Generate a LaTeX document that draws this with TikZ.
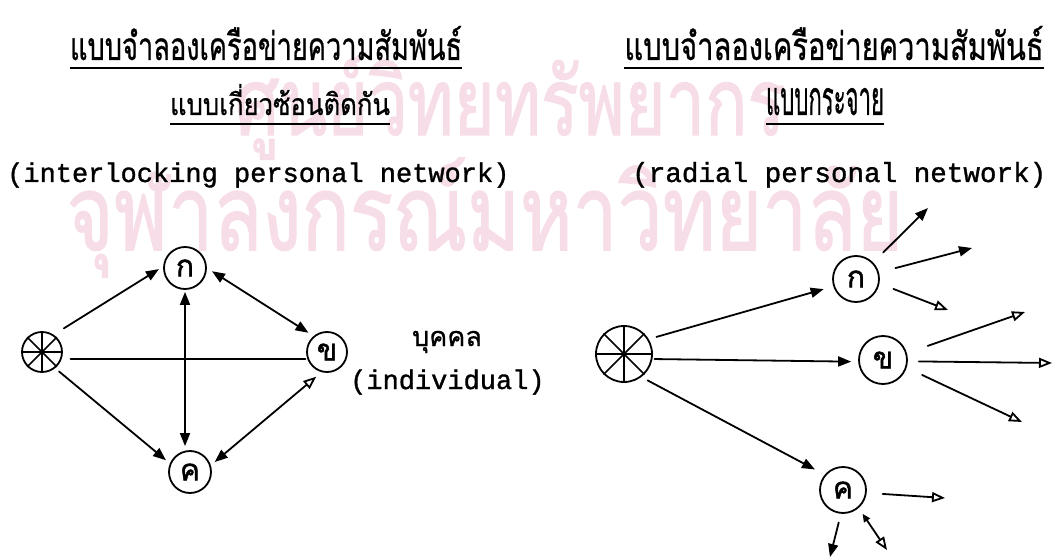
\documentclass[tikz,border=0pt]{standalone}
\usepackage{fontspec}
\usetikzlibrary{arrows.meta}
\newfontfamily\thai[Script=Thai,FakeBold=0.8]{Loma}
\newfontfamily\thaic[Script=Thai,FakeBold=1.5]{Loma}
\newfontfamily\wmthai[Script=Thai,FakeBold=1.5]{Loma}
\newfontfamily\tw[FakeBold=1.2]{Liberation Mono}
\definecolor{wm}{RGB}{246,221,231}
\tikzset{
  ink/.style={line width=1.8pt, line cap=round},
  arr/.style={ink, -{Triangle[length=13pt,width=10pt]}},
  oarr/.style={ink, -{Triangle[open,length=13pt,width=10pt]}},
  dbl/.style={ink, {Triangle[length=13pt,width=10pt]}-{Triangle[length=13pt,width=10pt]}},
  person/.style={circle, draw, line width=1.8pt, inner sep=0pt, minimum size=#1,
                 font=\thaic\fontsize{30}{30}\selectfont},
  hub/.style={circle, draw, line width=1.8pt, inner sep=0pt, minimum size=#1},
  spoke/.style={line width=1.5pt},
  mono/.style={inner sep=0pt, font=\tw\fontsize{27}{30}\selectfont},
  monoR/.style={inner sep=0pt, font=\tw\fontsize{27.6}{30}\selectfont},
  thaitxt/.style={inner sep=0pt},
  uline/.style={line width=1.6pt}
}
\begin{document}
\begin{tikzpicture}[x=1pt,y=-1pt]
\useasboundingbox (0,0) rectangle (1055,559);
% watermark
\node[thaitxt, anchor=base, text=wm] (w1) at (510,135)
  {\resizebox{550pt}{82pt}{\wmthai ศูนย์วิทยทรัพยากร}};
\node[thaitxt, anchor=base, text=wm] (w2) at (485,250)
  {\resizebox{836pt}{92pt}{\wmthai จุฬาลงกรณ์มหาวิทยาลัย}};

% titles left
\node[thaitxt, anchor=base] (t1L) at (266,60)
  {\resizebox{392pt}{34pt}{\thai แบบจำลองเครือข่ายความสัมพันธ์}};
\draw[uline] ([yshift=-8pt]t1L.base west) -- ([yshift=-8pt]t1L.base east);
\node[thaitxt, anchor=base] (t2L) at (280,115)
  {\resizebox{220pt}{31pt}{\thai แบบเกี่ยวซ้อนติดกัน}};
\draw[uline] ([yshift=-9pt]t2L.base west) -- ([yshift=-9pt]t2L.base east);
\node[mono, anchor=base west] (mL) at (7,182) {(interlocking personal network)};

% titles right
\node[thaitxt, anchor=base] (t1R) at (834,60)
  {\resizebox{419pt}{34pt}{\thai แบบจำลองเครือข่ายความสัมพันธ์}};
\draw[uline] ([yshift=-8pt]t1R.base west) -- ([yshift=-8pt]t1R.base east);
\node[thaitxt, anchor=base] (t2R) at (825,115)
  {\resizebox{118pt}{27pt}{\thai แบบกระจาย}};
\draw[uline] ([yshift=-9pt]t2R.base west) -- ([yshift=-9pt]t2R.base east);
\node[monoR, anchor=base west] (mR) at (632,182) {(radial personal network)};

% left diagram
\node[hub=40pt] (s1) at (42,352) {};
\foreach \a/\b in {0/180,45/225,90/270,135/315} \draw[spoke] (s1.\a) -- (s1.\b);
\node[person=42pt] (ka1) at (185,268) {ก};
\node[person=40pt] (kh1) at (327,352) {ข};
\node[person=42pt] (kk1) at (190,472) {ค};

\draw[arr, shorten <=12pt, shorten >=5pt] (s1.56) -- (ka1.176);
\draw[dbl, shorten <=6pt, shorten >=6pt] (ka1.0) -- (kh1.130);
\draw[ink, shorten <=9pt, shorten >=2pt] (s1.-20) -- (kh1.200);
\draw[dbl, shorten <=2pt, shorten >=4pt] (ka1.south) -- (ka1.south |- kk1.north);
\draw[arr, shorten <=5pt, shorten >=5pt] (s1.-51) -- (kk1.157);
\draw[ink, {Triangle[length=13pt,width=10pt]}-{Triangle[open,length=13pt,width=10pt]},
      shorten <=5pt, shorten >=7pt] (kk1.18) -- (kh1.255);

\node[thaitxt, anchor=base] (pb) at (447,346) {\thai\fontsize{27}{27}\selectfont บุคคล};
\node[mono, anchor=base west] (pi) at (350,389) {(individual)};

% right diagram
\node[hub=56pt] (s2) at (624,354) {};
\foreach \a/\b in {0/180,45/225,90/270,135/315} \draw[spoke] (s2.\a) -- (s2.\b);
\node[person=46pt] (ka2) at (856,279) {ก};
\node[person=48pt] (kh2) at (883,360) {ข};
\node[person=46pt] (kk2) at (843,490) {ค};

\draw[arr, shorten <=8pt, shorten >=10pt] (s2.31) -- (ka2.198);
\draw[arr, shorten <=2pt, shorten >=7pt] (s2.-10) -- (kh2.184);
\draw[arr, shorten <=7pt, shorten >=11pt] (s2.-53) -- (kk2.140);

\coordinate (a1) at (928,208);
\coordinate (a2) at (972,248);
\coordinate (a3) at (948,310);
\draw[arr, shorten <=14pt] (ka2.44) -- (a1);
\draw[arr, shorten <=17pt] (ka2.16) -- (a2);
\draw[oarr, shorten <=15pt] (ka2.-11) -- (a3);

\coordinate (b1) at (1025,312);
\coordinate (b2) at (1052,363);
\coordinate (b3) at (1022,422);
\draw[oarr, shorten <=22pt] (kh2.16) -- (b1);
\draw[oarr, shorten <=11pt] (kh2.-3) -- (b2);
\draw[oarr, shorten <=17pt] (kh2.-18) -- (b3);

\coordinate (c1) at (945,498);
\coordinate (c2) at (830,557);
\coordinate (c3) at (887,550);
\draw[oarr, shorten <=16pt] (kk2.-7) -- (c1);
\draw[arr, shorten <=9pt] (kk2.-95) -- (c2);
\draw[ink, {Triangle[length=8pt,width=7pt]}-{Triangle[open,length=13pt,width=10pt]},
      shorten <=7pt] (kk2.-49) -- (c3);
\end{tikzpicture}
\end{document}
